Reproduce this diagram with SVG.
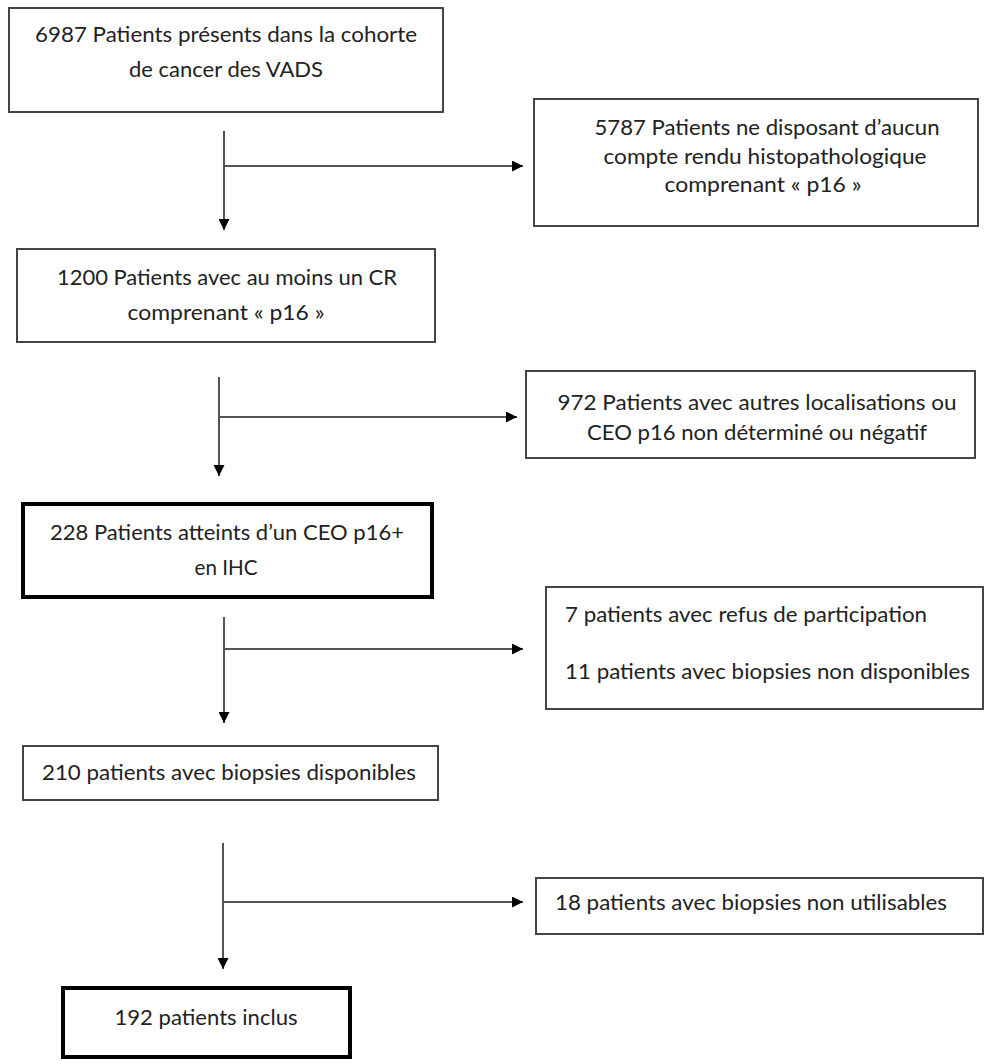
<svg xmlns="http://www.w3.org/2000/svg" width="985" height="1064" viewBox="0 0 985 1064">
<style>
.box{fill:#fff;stroke:#444;stroke-width:2}
.bold{fill:#fff;stroke:#000;stroke-width:4}
.t{font-family:Lato,"Liberation Sans",sans-serif;font-size:21px;fill:#222}
.c{text-anchor:middle}
.ln{stroke:#555;stroke-width:2;fill:none}
</style>
<defs>
<marker id="ah" viewBox="0 0 10 10" refX="10" refY="5" markerWidth="11" markerHeight="11" markerUnits="userSpaceOnUse" orient="auto">
<path d="M0,0 L10,5 L0,10 z" fill="#000"/>
</marker>
</defs>
<rect width="985" height="1064" fill="#fff"/>
<g id="connectors">
<path class="ln" d="M224,131 V230" marker-end="url(#ah)"/>
<path class="ln" d="M224,166 H523" marker-end="url(#ah)"/>
<path class="ln" d="M219,377 V476" marker-end="url(#ah)"/>
<path class="ln" d="M219,417 H517" marker-end="url(#ah)"/>
<path class="ln" d="M224,617 V723" marker-end="url(#ah)"/>
<path class="ln" d="M224,649 H523" marker-end="url(#ah)"/>
<path class="ln" d="M223,843 V969" marker-end="url(#ah)"/>
<path class="ln" d="M223,902 H523" marker-end="url(#ah)"/>
</g>
<g id="n1">
<rect class="box" x="9" y="8" width="434" height="104"/>
<text class="t c" x="226" y="42" textLength="382" lengthAdjust="spacingAndGlyphs">6987 Patients présents dans la cohorte</text>
<text class="t c" x="226" y="77" textLength="194" lengthAdjust="spacingAndGlyphs">de cancer des VADS</text>
</g>
<g id="n2">
<rect class="box" x="534" y="99" width="444" height="127"/>
<text class="t c" x="767" y="135" textLength="345" lengthAdjust="spacingAndGlyphs">5787 Patients ne disposant d’aucun</text>
<text class="t c" x="765" y="164" textLength="323" lengthAdjust="spacingAndGlyphs">compte rendu histopathologique</text>
<text class="t c" x="763" y="192" textLength="197" lengthAdjust="spacingAndGlyphs">comprenant « p16 »</text>
</g>
<g id="n3">
<rect class="box" x="17" y="249" width="418" height="93"/>
<text class="t c" x="227" y="285" textLength="340" lengthAdjust="spacingAndGlyphs">1200 Patients avec au moins un CR</text>
<text class="t c" x="226" y="320" textLength="197" lengthAdjust="spacingAndGlyphs">comprenant « p16 »</text>
</g>
<g id="n4">
<rect class="box" x="526" y="371" width="449" height="87"/>
<text class="t c" x="757" y="410" textLength="399" lengthAdjust="spacingAndGlyphs">972 Patients avec autres localisations ou</text>
<text class="t c" x="757" y="440" textLength="340" lengthAdjust="spacingAndGlyphs">CEO p16 non déterminé ou négatif</text>
</g>
<g id="n5">
<rect class="bold" x="23" y="504" width="409" height="93"/>
<text class="t c" x="227" y="540" textLength="354" lengthAdjust="spacingAndGlyphs">228 Patients atteints d’un CEO p16+</text>
<text class="t c" x="226" y="575" textLength="63" lengthAdjust="spacingAndGlyphs">en IHC</text>
</g>
<g id="n6">
<rect class="box" x="546" y="587" width="437" height="122"/>
<text class="t" x="565" y="622" textLength="362" lengthAdjust="spacingAndGlyphs">7 patients avec refus de participation</text>
<text class="t" x="565" y="679" textLength="405" lengthAdjust="spacingAndGlyphs">11 patients avec biopsies non disponibles</text>
</g>
<g id="n7">
<rect class="box" x="23" y="746" width="415" height="54"/>
<text class="t c" x="229" y="780" textLength="374" lengthAdjust="spacingAndGlyphs">210 patients avec biopsies disponibles</text>
</g>
<g id="n8">
<rect class="box" x="536" y="878" width="447" height="56"/>
<text class="t" x="555" y="910" textLength="392" lengthAdjust="spacingAndGlyphs">18 patients avec biopsies non utilisables</text>
</g>
<g id="n9">
<rect class="bold" x="63" y="988" width="287" height="69"/>
<text class="t c" x="206" y="1025" textLength="183" lengthAdjust="spacingAndGlyphs">192 patients inclus</text>
</g>
</svg>
